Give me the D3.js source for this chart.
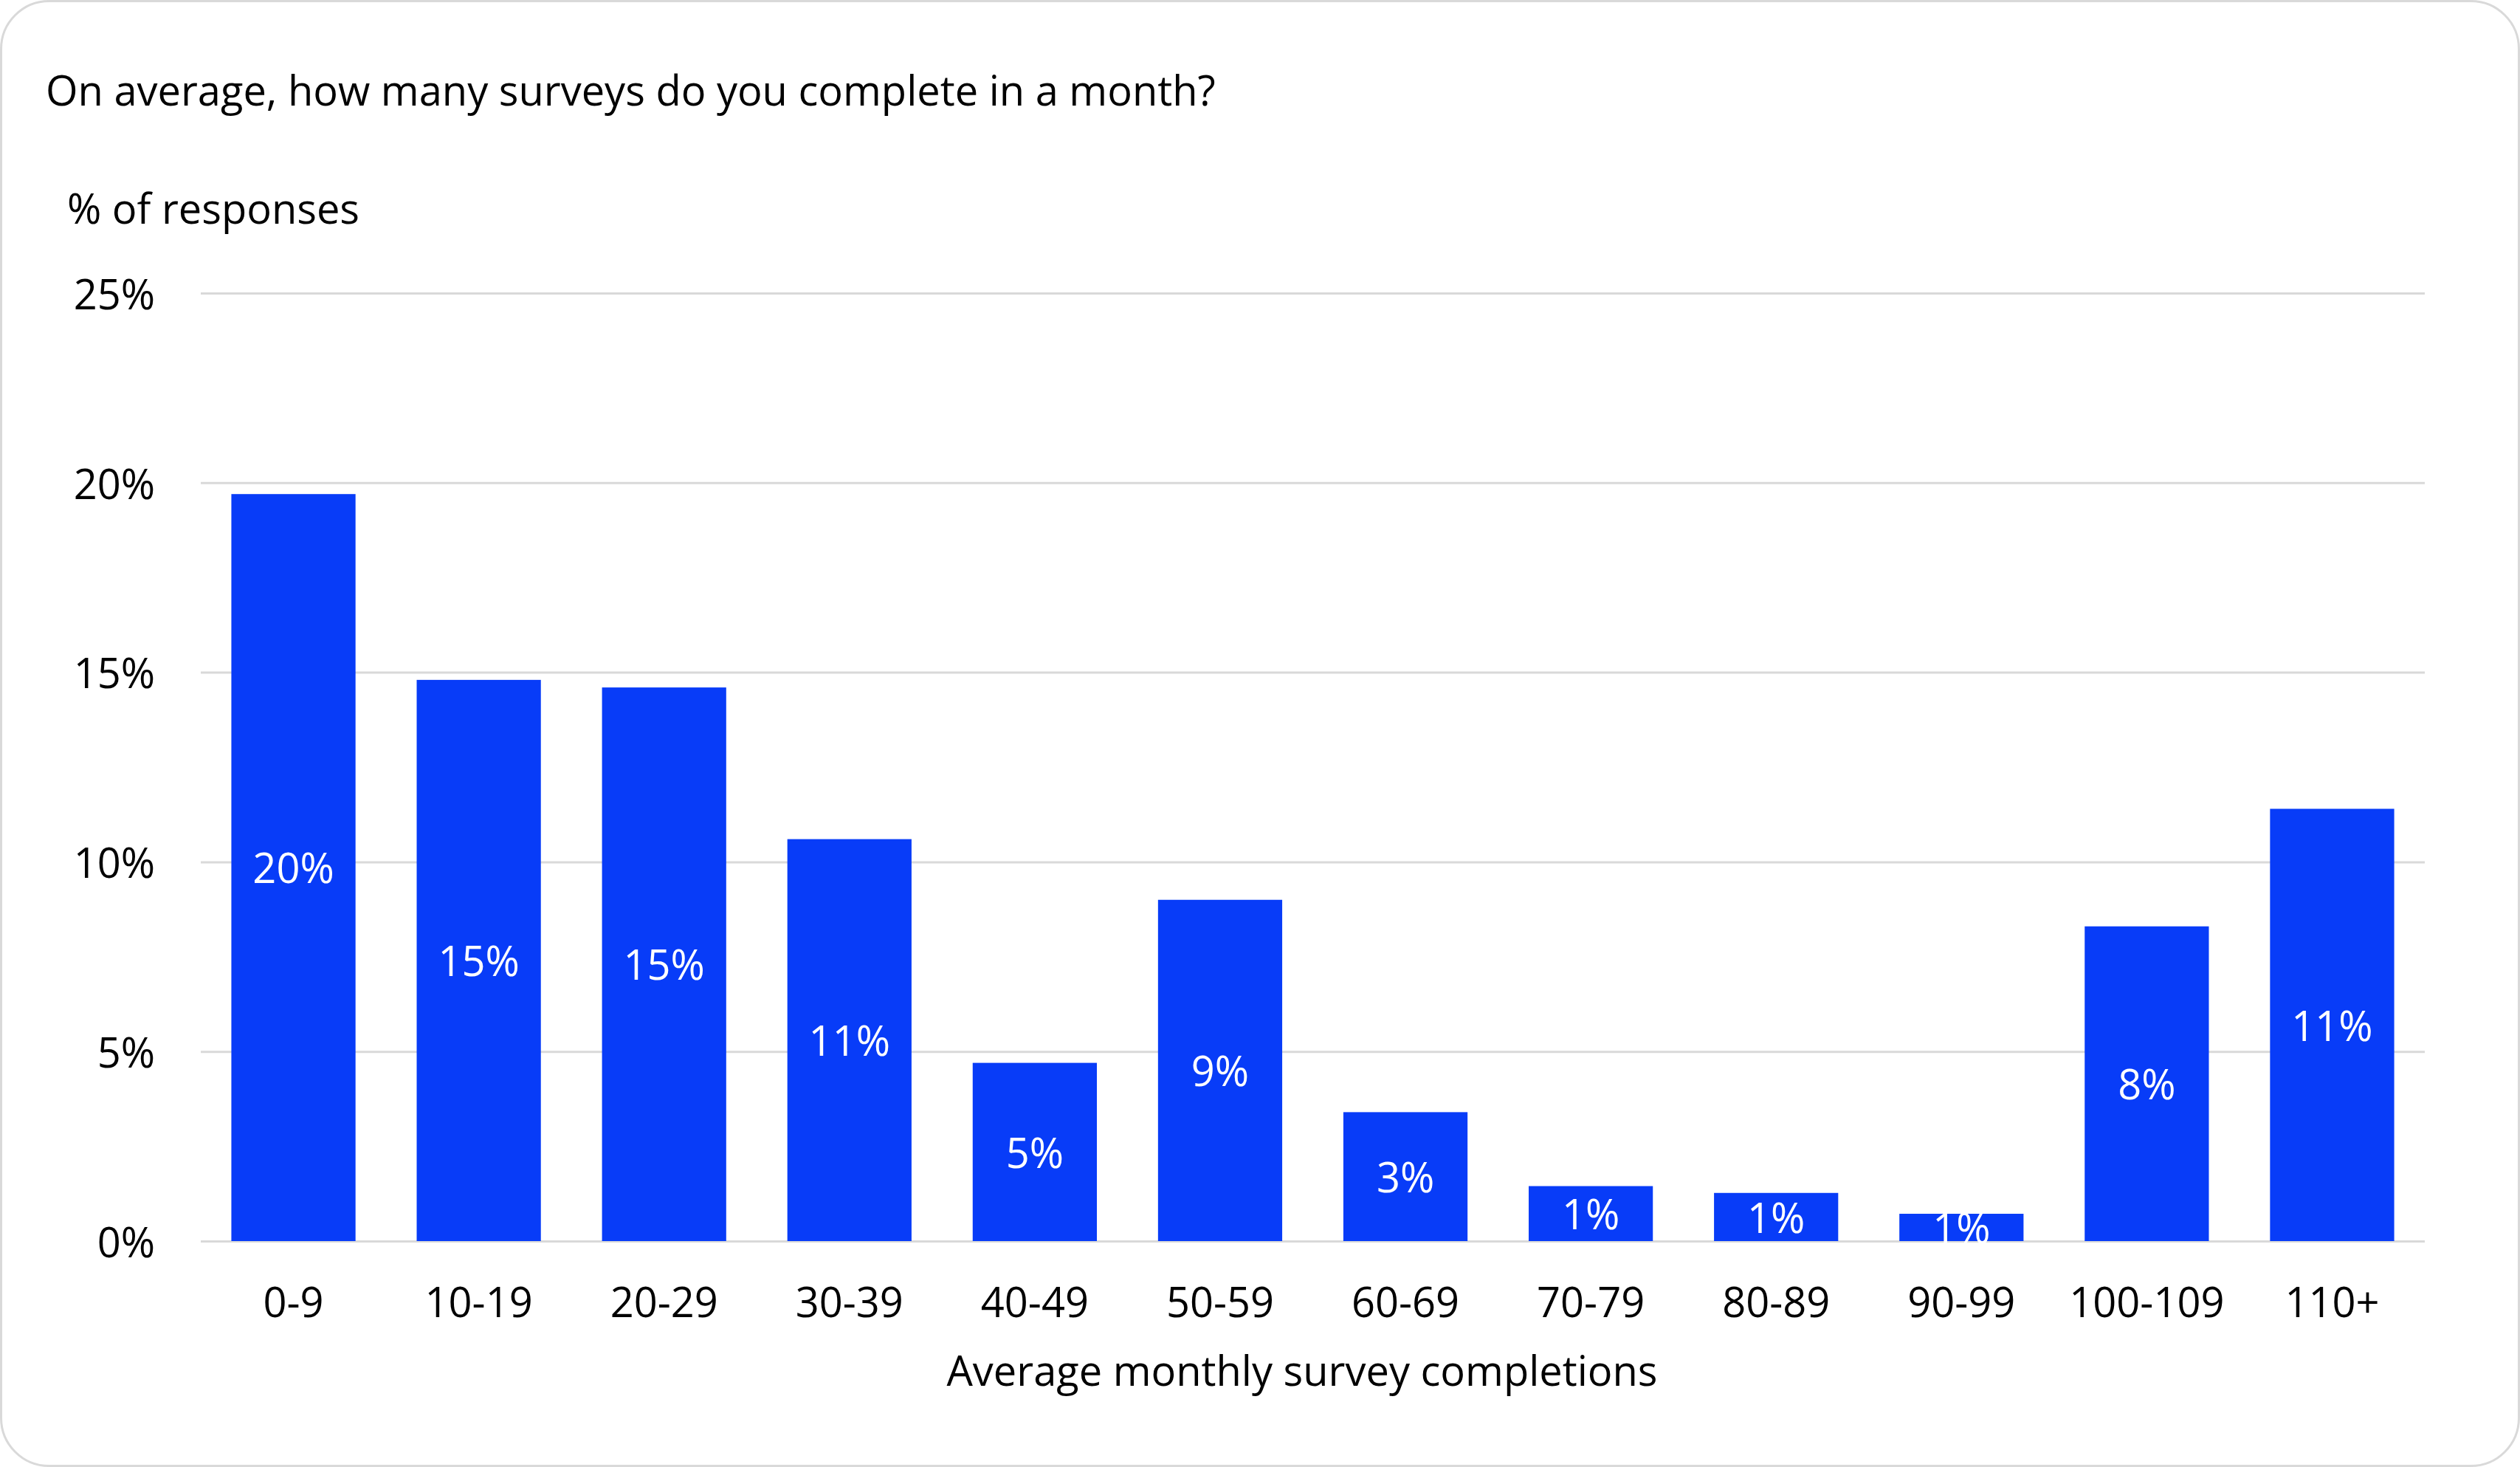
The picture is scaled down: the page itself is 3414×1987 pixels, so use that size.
<!DOCTYPE html>
<html>
<head>
<meta charset="utf-8">
<script src="https://cdn.jsdelivr.net/npm/d3@7"></script>
<style>
  body { margin: 0; background: #fff; }
  text { font-family: "Open Sans", "DejaVu Sans", sans-serif; }
</style>
</head>
<body>
<div id="main"></div>
<script>
// chart values
const categories = ["0-9", "10-19", "20-29", "30-39", "40-49", "50-59", "60-69", "70-79", "80-89", "90-99", "100-109", "110+"];
const shares = [19.7, 14.8, 14.6, 10.6, 4.7, 9.0, 3.4, 1.45, 1.27, 0.72, 8.3, 11.4];
const yTicks = [0, 5, 10, 15, 20, 25];

const titleText = "On average, how many surveys do you complete in a month?";
const yTitle = "% of responses";
const xTitle = "Average monthly survey completions";

const W = 3414, H = 1987;
const margin = { top: 397, right: 129, bottom: 306, left: 272 };
const BAR = "#083cf8", GRID = "#d9d9d9";
const FS = 56;

const svg = d3.select('#main')
    .append('svg')
    .attr('width', W)
    .attr('height', H);

// card frame
svg.append('rect')
    .attr('x', 1.5).attr('y', 1.5)
    .attr('width', W - 3).attr('height', H - 3)
    .attr('rx', 65).attr('ry', 65)
    .attr('fill', '#fff')
    .attr('stroke', GRID)
    .attr('stroke-width', 3);

const x = d3.scaleBand()
    .domain(categories)
    .range([margin.left, W - margin.right])
    .paddingInner(0.33)
    .paddingOuter(0.165);

const y = d3.scaleLinear()
    .domain([0, 25])
    .range([H - margin.bottom, margin.top]);

// y axis + gridlines
const yAxis = svg.append('g')
    .attr('transform', `translate(${margin.left},0)`)
    .call(d3.axisLeft(y)
        .tickValues(yTicks)
        .tickFormat(d => d + "%")
        .tickSizeInner(-(W - margin.right - margin.left))
        .tickSizeOuter(0)
        .tickPadding(62));
yAxis.select('.domain').remove();
yAxis.selectAll('.tick line').attr('stroke', GRID).attr('stroke-width', 3);
yAxis.selectAll('.tick text')
    .attr('font-size', FS)
    .attr('fill', '#000')
    .attr('dy', '0.38em')
    .attr('font-family', '"Open Sans", sans-serif');

// bars
svg.append('g')
    .selectAll('rect')
    .data(shares)
    .enter()
    .append('rect')
    .attr('x', (d, i) => x(categories[i]))
    .attr('y', d => y(d))
    .attr('width', x.bandwidth())
    .attr('height', d => y(0) - y(d))
    .attr('fill', BAR);

// value labels in the middle of each bar
svg.append('g')
    .selectAll('text')
    .data(shares)
    .enter()
    .append('text')
    .attr('x', (d, i) => x(categories[i]) + x.bandwidth() / 2)
    .attr('y', d => (y(d) + y(0)) / 2)
    .attr('dy', '0.38em')
    .attr('text-anchor', 'middle')
    .attr('font-size', FS)
    .attr('fill', '#fff')
    .text(d => Math.round(d) + "%");

// x axis labels
const xAxis = svg.append('g')
    .attr('transform', `translate(0,${y(0)})`)
    .call(d3.axisBottom(x).tickSize(0).tickPadding(63));
xAxis.select('.domain').remove();
xAxis.selectAll('.tick text')
    .attr('font-size', FS)
    .attr('fill', '#000')
    .attr('font-family', '"Open Sans", sans-serif');

// titles
svg.append('text')
    .attr('x', 62).attr('y', 143)
    .attr('font-size', FS)
    .attr('fill', '#000')
    .text(titleText);

svg.append('text')
    .attr('x', 91).attr('y', 303)
    .attr('font-size', FS)
    .attr('fill', '#000')
    .text(yTitle);

svg.append('text')
    .attr('x', 1764).attr('y', 1877)
    .attr('text-anchor', 'middle')
    .attr('font-size', FS)
    .attr('fill', '#000')
    .text(xTitle);
</script>
</body>
</html>
